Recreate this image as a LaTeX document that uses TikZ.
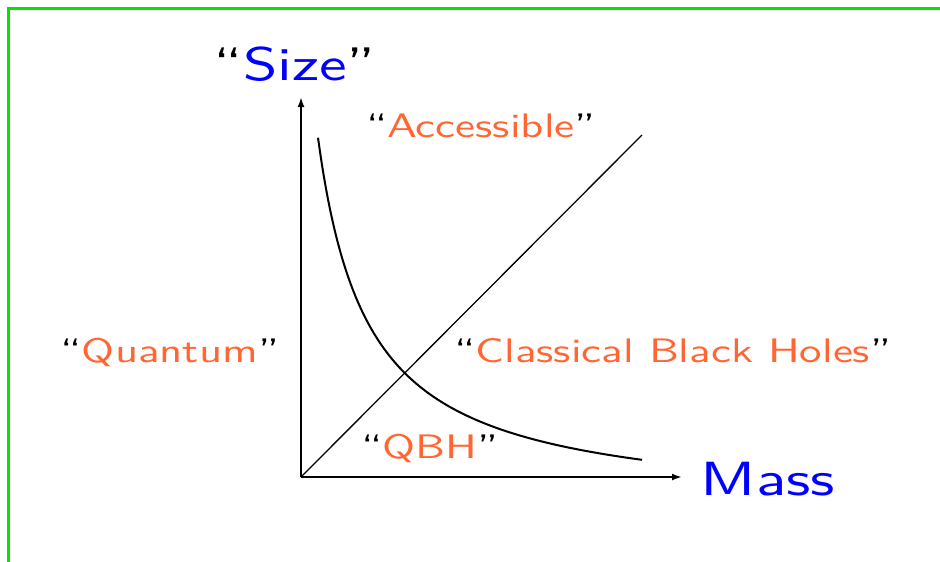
\documentclass[tikz,border=0pt]{standalone}
\usepackage{fontspec}
\usepackage{tikz}
\usetikzlibrary{arrows.meta}
\newfontfamily\qgfont{lmsans10-regular.otf}[FakeStretch=1.32]
\definecolor{qg-frame}{HTML}{00E600}
\definecolor{qg-axis}{HTML}{0000FF}
\definecolor{qg-region}{HTML}{FF6633}
\newcommand{\qgquote}[2]{“\textcolor{#1}{#2}”}
\tikzset{
  axislabel/.style={inner sep=0pt, anchor=base, font=\qgfont\fontsize{47}{56}\selectfont},
  region/.style={inner sep=0pt, anchor=base, font=\qgfont\fontsize{34}{41}\selectfont},
  axis/.style={line width=2.6pt, -{Latex[length=10pt,width=7pt]}},
}

\begin{document}
\begin{tikzpicture}[x=1pt,y=-1pt]
    \useasboundingbox (0,0) rectangle (940,562);
    % frame
    \draw[qg-frame, line width=3pt] (8,562) -- (8,8) -- (940,8);
    % axes
    \coordinate (origin) at (301,477);
    \coordinate (xend) at (682,477);
    \coordinate (yend) at (301,97);
    \coordinate (diagend) at (642,135);
    \draw[axis] (origin) -- (xend);
    \draw[axis] (origin) -- (yend);
    \draw[line width=1.3pt] (origin) -- (diagend);
    % size curve, roughly 1/mass
    \draw[line width=2pt] plot[domain=17:341, samples=80, smooth] ({301+\x},{477-(188/(\x+33.5)*100-33)});
    % labels
    \node[axislabel] (size) at (295,80) {\qgquote{qg-axis}{Size}};
    \node[axislabel, font=\qgfont\fontsize{48}{58}\selectfont] (mass) at (768,495) {\textcolor{qg-axis}{Mass}};
    \node[region] (accessible) at (481,137) {\qgquote{qg-region}{Accessible}};
    \node[region] (quantum) at (170,362) {\qgquote{qg-region}{Quantum}};
    \node[region] (classical) at (673,362) {\qgquote{qg-region}{Classical Black Holes}};
    \node[region] (qbh) at (430,458) {\qgquote{qg-region}{QBH}};
\end{tikzpicture}
\end{document}
